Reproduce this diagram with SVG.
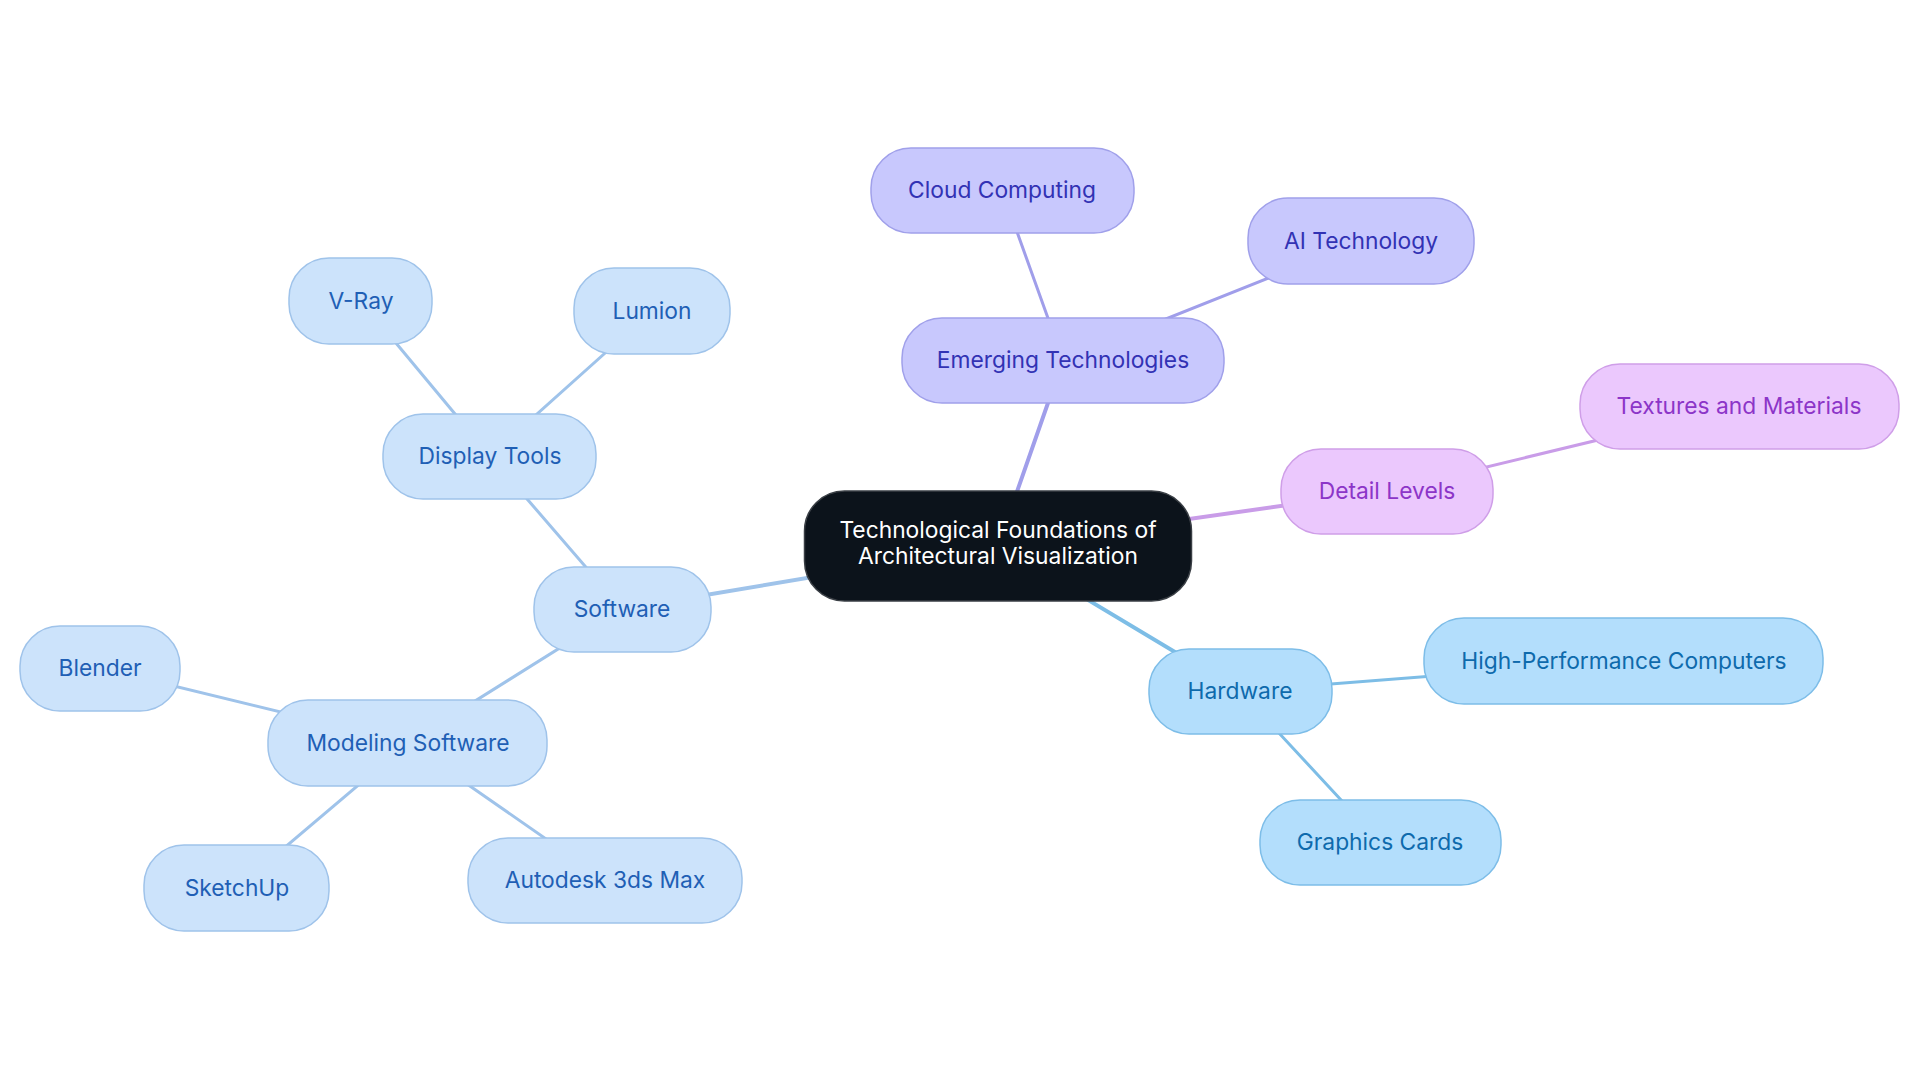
<svg xmlns="http://www.w3.org/2000/svg" width="1920" height="1083" viewBox="0 0 1920 1083">
<style>
text{font-family:Inter,"Noto Sans","Liberation Sans",sans-serif;font-size:22.8px;text-anchor:middle}
.sw rect{fill:#cce3fb;stroke:#9fc3ea;stroke-width:1.5}
.sw text{fill:#1f5fb5}
.hw rect{fill:#b3defc;stroke:#7dbde8;stroke-width:1.5}
.hw text{fill:#0e6aac}
.em rect{fill:#c8c8fd;stroke:#a0a0ea;stroke-width:1.5}
.em text{fill:#3232b4}
.dl rect{fill:#ebc8fd;stroke:#cf9ee8;stroke-width:1.5}
.dl text{fill:#8c35c8}
.root rect{fill:#0c131b;stroke:#3a3f45;stroke-width:1.5}
.root text{fill:#ffffff}
#connectors line{stroke-width:3;stroke-linecap:round}
.c-sw{stroke:#9fc3ea}
.c-hw{stroke:#7dbde6}
.c-em{stroke:#a09eea}
.c-dl{stroke:#c99ce8}
</style>
<rect width="1920" height="1083" fill="#ffffff"/>
<g id="connectors">
<line class="c-sw" x1="998" y1="546" x2="622" y2="609" style="stroke-width:4"/>
<line class="c-em" x1="998" y1="546" x2="1063" y2="360" style="stroke-width:4"/>
<line class="c-dl" x1="998" y1="546" x2="1387" y2="491" style="stroke-width:4"/>
<line class="c-hw" x1="998" y1="546" x2="1240" y2="691" style="stroke-width:4"/>
<line class="c-em" x1="1063" y1="360" x2="1002" y2="190"/>
<line class="c-em" x1="1063" y1="360" x2="1361" y2="241"/>
<line class="c-dl" x1="1387" y1="491" x2="1739" y2="406"/>
<line class="c-hw" x1="1240" y1="691" x2="1624" y2="661"/>
<line class="c-hw" x1="1240" y1="691" x2="1380" y2="842"/>
<line class="c-sw" x1="622" y1="609" x2="490" y2="456"/>
<line class="c-sw" x1="490" y1="456" x2="361" y2="301"/>
<line class="c-sw" x1="490" y1="456" x2="652" y2="311"/>
<line class="c-sw" x1="622" y1="609" x2="408" y2="743"/>
<line class="c-sw" x1="408" y1="743" x2="100" y2="668"/>
<line class="c-sw" x1="408" y1="743" x2="237" y2="888"/>
<line class="c-sw" x1="408" y1="743" x2="605" y2="880"/>
</g>
<g id="root" class="root"><rect x="804.5" y="491" width="387" height="110" rx="40"/><text x="998" y="538">Technological Foundations of</text><text x="998" y="564">Architectural Visualization</text></g>
<g id="emerging" class="em"><rect x="902" y="318" width="322" height="85" rx="40"/><text x="1063" y="368">Emerging Technologies</text></g>
<g id="cloud" class="em"><rect x="871" y="148" width="263" height="85" rx="40"/><text x="1002" y="198">Cloud Computing</text></g>
<g id="ai" class="em"><rect x="1248" y="198" width="226" height="86" rx="40"/><text x="1361" y="249">AI Technology</text></g>
<g id="detail" class="dl"><rect x="1281" y="449" width="212" height="85" rx="40"/><text x="1387" y="499">Detail Levels</text></g>
<g id="textures" class="dl"><rect x="1580" y="364" width="319" height="85" rx="40"/><text x="1739" y="414">Textures and Materials</text></g>
<g id="hardware" class="hw"><rect x="1149" y="649" width="183" height="85" rx="40"/><text x="1240" y="699">Hardware</text></g>
<g id="hpc" class="hw"><rect x="1424" y="618" width="399" height="86" rx="40"/><text x="1624" y="669">High-Performance Computers</text></g>
<g id="graphics" class="hw"><rect x="1260" y="800" width="241" height="85" rx="40"/><text x="1380" y="850">Graphics Cards</text></g>
<g id="software" class="sw"><rect x="534" y="567" width="177" height="85" rx="40"/><text x="622" y="617">Software</text></g>
<g id="display" class="sw"><rect x="383" y="414" width="213" height="85" rx="40"/><text x="490" y="464">Display Tools</text></g>
<g id="vray" class="sw"><rect x="289" y="258" width="143" height="86" rx="40"/><text x="361" y="309">V-Ray</text></g>
<g id="lumion" class="sw"><rect x="574" y="268" width="156" height="86" rx="40"/><text x="652" y="319">Lumion</text></g>
<g id="modeling" class="sw"><rect x="268" y="700" width="279" height="86" rx="40"/><text x="408" y="751">Modeling Software</text></g>
<g id="blender" class="sw"><rect x="20" y="626" width="160" height="85" rx="40"/><text x="100" y="676">Blender</text></g>
<g id="sketchup" class="sw"><rect x="144" y="845" width="185" height="86" rx="40"/><text x="237" y="896">SketchUp</text></g>
<g id="autodesk" class="sw"><rect x="468" y="838" width="274" height="85" rx="40"/><text x="605" y="888">Autodesk 3ds Max</text></g>
</svg>
